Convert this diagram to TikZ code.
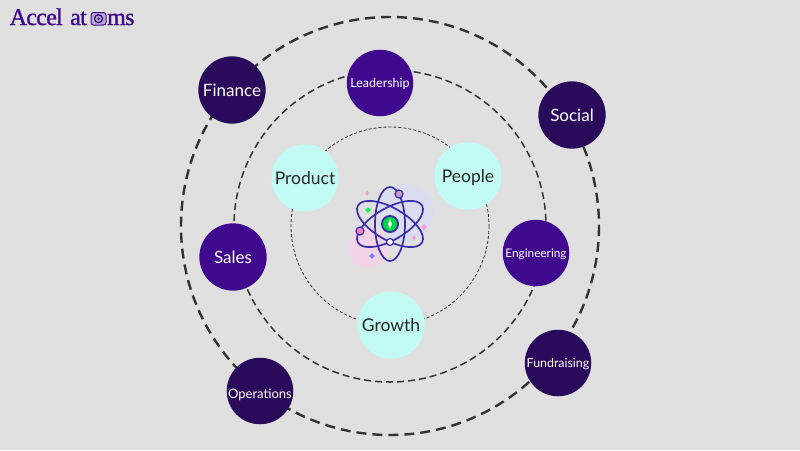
\documentclass[tikz,border=0pt]{standalone}
\usepackage{fontspec}
\setmainfont{Lato}
\newfontfamily\logofont[LetterSpace=-3,FakeBold=1.2]{Liberation Serif}
\usetikzlibrary{shapes.geometric}
\definecolor{bgc}{HTML}{E0E0E0}
\definecolor{darkp}{HTML}{2A0A5A}
\definecolor{midp}{HTML}{3F0A8E}
\definecolor{cyanc}{HTML}{C2FBF4}
\definecolor{ringc}{HTML}{333333}
\definecolor{atomc}{HTML}{3A2FA8}
\definecolor{pinkh}{HTML}{F2D3E8}
\definecolor{lavh}{HTML}{DCDCF6}
\tikzset{
  x=1pt,y=-1pt,
  bub/.style={circle,minimum size=66pt,inner sep=0pt,text width=66pt,align=center},
  txt/.style={font=\fontsize{#1}{#1}\selectfont,text height=0.78*#1 pt,text depth=0pt},
  darkb/.style={bub,fill=darkp,text=white},
  midb/.style={bub,fill=midp,text=white},
  cyanb/.style={bub,fill=cyanc,text=black!85},
  orb/.style={draw=atomc,line width=1.7pt},
  spark/.style={fill=#1,diamond,minimum size=6pt,inner sep=0pt},
}
\begin{document}
\begin{tikzpicture}
\useasboundingbox (0,0) rectangle (800,450);
\fill[bgc] (0,0) rectangle (800,450);
% rings
\draw[ringc,line width=2.4pt,dash pattern=on 10pt off 6pt] (390,226) circle [radius=209];
\draw[ringc,line width=1.5pt,dash pattern=on 7pt off 4pt] (390,226) circle [radius=156];
\draw[ringc,line width=0.8pt,dash pattern=on 3pt off 2pt] (390,226) circle [radius=99];
% bubbles
\node[darkb,txt=17] (finance) at (232,90) {Finance};
\node[midb,txt=12.5] (leadership) at (380,83) {Leadership};
\node[darkb,txt=17] (social) at (572,115) {Social};
\node[cyanb,txt=17.5] (product) at (305,178) {Product};
\node[cyanb,txt=17.5] (people) at (468,176) {People};
\node[midb,txt=17] (sales) at (233,257) {Sales};
\node[midb,txt=11.8] (engineering) at (536,253) {Engineering};
\node[cyanb,txt=17.5] (growth) at (391,325) {Growth};
\node[darkb,txt=13] (operations) at (260,391) {\raisebox{-2pt}{Operations}};
\node[darkb,txt=12.4] (fundraising) at (558,363) {Fundraising};
% atom
\fill[pinkh] (368,248) circle [radius=20];
\fill[lavh,opacity=.8] (405,213) circle [radius=29];
\draw[orb] (390,224) ellipse [x radius=15,y radius=37];
\draw[orb,rotate around={60:(390,224)}] (390,224) ellipse [x radius=16,y radius=37];
\draw[orb,rotate around={-60:(390,224)}] (390,224) ellipse [x radius=16,y radius=37];
\fill[atomc] (390,224) circle [radius=9];
\fill[green!70!cyan!85!black] (390,224) circle [radius=7];
\node[spark=white,minimum size=0pt,minimum width=4pt,minimum height=10pt] (bolt) at (390,224) {};
\filldraw[draw=atomc,fill=white,line width=1.2pt] (390,242) circle [radius=3.5];
\filldraw[draw=atomc,fill=violet!40!white,line width=1.2pt] (399,194) circle [radius=4];
\filldraw[draw=atomc,fill=magenta!50!white,line width=1.2pt] (360,231) circle [radius=4];
\node[spark=green!70!cyan] (s1) at (368,210) {};
\node[spark=magenta!40!white,minimum size=0pt,minimum width=3.5pt,minimum height=6pt] (s2) at (367,193) {};
\node[spark=magenta!40!white] (s3) at (424,227) {};
\node[spark=magenta!40!white,minimum size=0pt,minimum width=3.5pt,minimum height=6pt] (s4) at (414,238) {};
\node[spark=blue!50!white] (s5) at (372,256) {};
% logo
\node[text=midp,anchor=base west,inner sep=0pt,font=\fontsize{24}{25}\selectfont\logofont] (logoa) at (9.5,25) {Accel};
\node[text=midp,anchor=base west,inner sep=0pt,font=\fontsize{24}{25}\selectfont\logofont] (logoc) at (70,25) {at};
\draw[midp,line width=1pt,fill=midp!25!bgc,rounded corners=2.5pt] (91,12.5) rectangle (106,25);
\draw[midp,line width=1.3pt] (98.5,18.7) circle [radius=4];
\fill[midp] (98.5,18.7) circle [radius=1.4];
\node[text=midp,anchor=base west,inner sep=0pt,font=\fontsize{24}{25}\selectfont\logofont] (logob) at (107,25) {ms};
\end{tikzpicture}
\end{document}
